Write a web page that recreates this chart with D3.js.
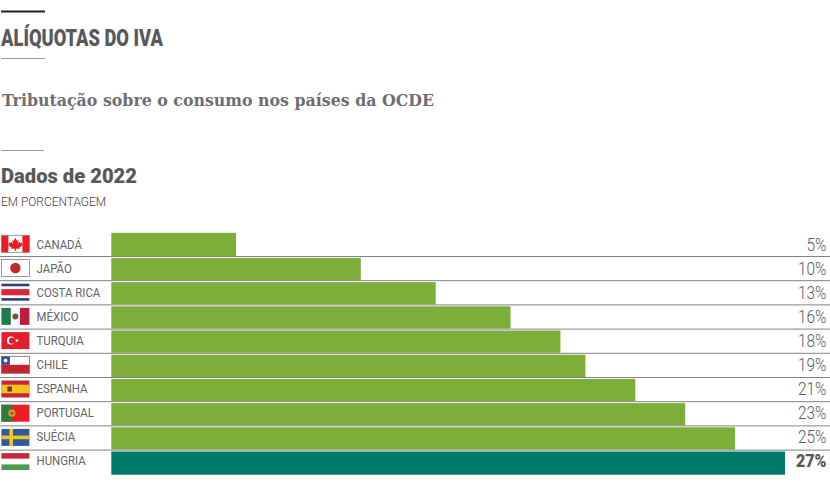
<!DOCTYPE html>
<html>
<head>
<meta charset="utf-8">
<script src="https://cdn.jsdelivr.net/npm/d3@7"></script>
<style>
	html, body { margin: 0; padding: 0; background: #fff; }
	svg { display: block; }
	text { fill: #58595b; }
</style>
</head>
<body>
<div id="container"></div>
<script>
	var countries = ["CANADÁ", "JAPÃO", "COSTA RICA", "MÉXICO", "TURQUIA", "CHILE", "ESPANHA", "PORTUGAL", "SUÉCIA", "HUNGRIA"];
	var rates = [5, 10, 13, 16, 18, 19, 21, 23, 25, 27];
	var highlight = "HUNGRIA";

	var container = d3.select("#container")
		.append("svg")
		.attr("width", 830)
		.attr("height", 484);

	var x = d3.scaleLinear().domain([0, 27]).range([111.3, 785]);
	var y = d3.scaleBand().domain(countries).range([232.3, 474.3]).paddingInner(0);
	// the texts sit on a slightly tighter grid than the bars
	var yText = d3.scaleBand().domain(countries).range([231.7, 471.7]).paddingInner(0);

	// header rules
	var rule = function(x1, x2, yy, w, color){
		container.append("line")
			.attr("x1", x1).attr("x2", x2).attr("y1", yy).attr("y2", yy)
			.style("stroke", color).style("stroke-width", w);
	};
	rule(1, 45, 11.5, 2, "#231f20");
	rule(1, 45, 58.5, 1, "#9a9a9a");
	rule(1, 44, 150.5, 1, "#9a9a9a");

	// fitted text, the original fonts are not available
	var label = function(txt, xx, yy, font, size, weight, len, color){
		return container.append("text")
			.attr("x", xx).attr("y", yy)
			.attr("textLength", len)
			.attr("lengthAdjust", "spacingAndGlyphs")
			.style("font-family", font)
			.style("font-size", size + "px")
			.style("font-weight", weight)
			.style("fill", color)
			.text(txt);
	};
	label("ALÍQUOTAS DO IVA", 1, 45.7, "Roboto", 23, 900, 162, "#58595b");
	label("Tributação sobre o consumo nos países da OCDE", 2, 106, "DejaVu Serif", 17, 700, 432, "#6d6e71");
	label("Dados de 2022", 1, 183, "Roboto", 21, 900, 136, "#58595b");
	label("EM PORCENTAGEM", 1, 206, "Roboto", 12, 300, 105, "#414042");

	// bars, the first and last rows have no rule on one side
	var last = countries.length - 1;
	var barTop = function(i){ return y(countries[i]) + (i === 0 ? 0.5 : 1.4); };
	var barBottom = function(i){ return y(countries[i]) + y.bandwidth() + (i === last ? 0.4 : -0.5); };

	container.selectAll("rect.bar")
		.data(rates)
		.enter().append("rect")
		.attr("class", "bar")
		.attr("x", x(0))
		.attr("y", function(d, i){ return barTop(i); })
		.attr("width", function(d){ return x(d) - x(0); })
		.attr("height", function(d, i){ return barBottom(i) - barTop(i); })
		.style("fill", function(d, i){ return countries[i] === highlight ? "#007a69" : "#7eae3a"; });

	// row separators
	container.selectAll("line.sep")
		.data(countries.slice(1))
		.enter().append("line")
		.attr("class", "sep")
		.attr("x1", 0)
		.attr("x2", 830)
		.attr("y1", function(d){ return y(d); })
		.attr("y2", function(d){ return y(d); })
		.style("stroke", "#808285")
		.style("stroke-width", 1);

	// country names
	container.selectAll("text.country")
		.data(countries)
		.enter().append("text")
		.attr("class", "country")
		.attr("transform", function(d){ return "translate(36.5," + (yText(d) + 17) + ") scale(0.88,1)"; })
		.style("font-family", "Roboto")
		.style("font-size", "13px")
		.style("fill", "#636466")
		.text(function(d){ return d; });

	// values
	container.selectAll("text.value")
		.data(rates)
		.enter().append("text")
		.attr("class", "value")
		.attr("text-anchor", "end")
		.attr("transform", function(d, i){
			var sx = countries[i] === highlight ? 0.92 : 0.88;
			return "translate(826.5," + (yText(countries[i]) + 19.3) + ") scale(" + sx + ",1)";
		})
		.style("font-family", "Roboto")
		.style("font-size", "17.5px")
		.style("font-weight", function(d, i){ return countries[i] === highlight ? 900 : 300; })
		.text(function(d){ return d + "%"; });

	// flags, each one 28x17 in its own units
	var drawFlag = {
		"CANADÁ": function(g){
			box(g, 0, 0, 28, 17, "#fff");
			box(g, 0, 0, 7, 17, "#ed1c24");
			box(g, 21, 0, 7, 17, "#ed1c24");
			g.append("path").attr("d", "M14 2.5l1.6 3 1.6-.8-.7 3.6 2-1.8.5 1.3 2-.3-.7 2 .8.5-3.3 2.4.3 1.2-3.4-.4v2.3h-1.4v-2.3l-3.4.4.3-1.2-3.3-2.4.8-.5-.7-2 2 .3.5-1.3 2 1.8-.7-3.6 1.6.8z").style("fill", "#ed1c24");
			border(g, "#808285");
		},
		"JAPÃO": function(g){
			box(g, 0, 0, 28, 17, "#fff");
			g.append("circle").attr("cx", 14).attr("cy", 8.5).attr("r", 5.2).style("fill", "#c1272d");
			border(g, "#808285");
		},
		"COSTA RICA": function(g){
			box(g, 0, 0, 28, 17, "#fff");
			box(g, 0, 0, 28, 2.6, "#2e3f84");
			box(g, 0, 14.4, 28, 2.6, "#2e3f84");
			box(g, 0, 5.4, 28, 6.2, "#d7263d");
		},
		"MÉXICO": function(g){
			box(g, 0, 0, 9.5, 17, "#1f7a4d");
			box(g, 9.5, 0, 9, 17, "#fff");
			box(g, 18.5, 0, 9.5, 17, "#be1e3c");
			g.append("circle").attr("cx", 14).attr("cy", 8.5).attr("r", 3).style("fill", "#6b5a30");
		},
		"TURQUIA": function(g){
			box(g, 0, 0, 28, 17, "#e31e2d");
			g.append("circle").attr("cx", 9.5).attr("cy", 8.5).attr("r", 4).style("fill", "#fff");
			g.append("circle").attr("cx", 10.7).attr("cy", 8.5).attr("r", 3.2).style("fill", "#e31e2d");
			g.append("circle").attr("cx", 15.5).attr("cy", 8.5).attr("r", 1.3).style("fill", "#fff");
		},
		"CHILE": function(g){
			box(g, 0, 0, 28, 17, "#fff");
			box(g, 0, 8.5, 28, 8.5, "#c8222a");
			box(g, 0, 0, 8.5, 8.5, "#2e4a9b");
			g.append("circle").attr("cx", 4.2).attr("cy", 4.2).attr("r", 1.9).style("fill", "#fff");
			border(g, "#6d6e71");
		},
		"ESPANHA": function(g){
			box(g, 0, 0, 28, 17, "#c9252c");
			box(g, 0, 4.2, 28, 8.6, "#f6c324");
			box(g, 6, 6, 4.5, 5, "#5a3a20");
		},
		"PORTUGAL": function(g){
			box(g, 0, 0, 28, 17, "#ed1c24");
			box(g, 0, 0, 11, 17, "#2f7d3c");
			g.append("circle").attr("cx", 10.5).attr("cy", 8.5).attr("r", 3.6).style("fill", "#c9a227");
			g.append("circle").attr("cx", 10.5).attr("cy", 8.5).attr("r", 1.8).style("fill", "#d8434a");
		},
		"SUÉCIA": function(g){
			box(g, 0, 0, 28, 17, "#2f5a9e");
			box(g, 8, 0, 3.6, 17, "#f6c324");
			box(g, 0, 6.7, 28, 3.6, "#f6c324");
		},
		"HUNGRIA": function(g){
			box(g, 0, 0, 28, 5.7, "#c8283e");
			box(g, 0, 5.7, 28, 5.6, "#fff");
			box(g, 0, 11.3, 28, 5.7, "#4c9a4f");
		}
	};

	function box(g, bx, by, w, h, color){
		g.append("rect").attr("x", bx).attr("y", by).attr("width", w).attr("height", h).style("fill", color);
	}
	function border(g, color){
		g.append("rect").attr("x", 0).attr("y", 0).attr("width", 28).attr("height", 17)
			.style("fill", "none").style("stroke", color).style("stroke-width", 0.8);
	}

	container.selectAll("g.flag")
		.data(countries)
		.enter().append("g")
		.attr("class", "flag")
		.attr("transform", function(d){ return "translate(1.4," + (y(d) + 3) + ")"; })
		.each(function(d){ drawFlag[d](d3.select(this)); });
</script>
</body>
</html>
